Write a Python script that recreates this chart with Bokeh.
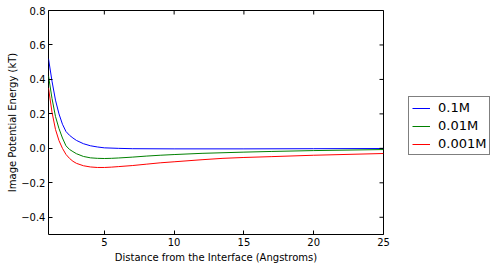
import math
from bokeh.plotting import figure
from bokeh.layouts import row
from bokeh.models import Range1d, Legend, LegendItem, FixedTicker
from bokeh.embed import file_html
from bokeh.resources import INLINE

# Data
x_blue = [1, 1.25, 1.5, 1.75, 2.0, 2.25, 2.5, 2.75, 3.0, 3.5, 4.0, 4.5, 5, 6, 7, 10, 15, 20, 25]
y_blue = [0.52, 0.39, 0.28, 0.20, 0.14, 0.098, 0.076, 0.060, 0.046, 0.027, 0.015, 0.008,
          0.003, 0.0, -0.002, -0.003, -0.003, -0.002, -0.001]

x_green = [1, 1.25, 1.5, 1.75, 2.0, 2.25, 2.5, 2.75, 3.0, 3.5, 4.0, 4.5, 5, 5.5, 6, 7, 8, 9, 10,
           12, 15, 17, 20, 25]
y_green = [0.42, 0.29, 0.185, 0.115, 0.06, 0.015, -0.006, -0.019, -0.031, -0.047, -0.055, -0.058,
           -0.059, -0.058, -0.056, -0.051, -0.045, -0.040, -0.036, -0.029, -0.022, -0.018,
           -0.013, -0.007]

x_red = [1, 1.25, 1.5, 1.75, 2.0, 2.25, 2.5, 2.75, 3.0, 3.5, 4.0, 4.5, 5, 5.5, 6, 7, 8, 9, 10,
         12, 13.5, 15, 17, 20, 25]
y_red = [0.35, 0.21, 0.11, 0.045, 0.0, -0.035, -0.058, -0.075, -0.087, -0.101, -0.108, -0.111,
         -0.111, -0.109, -0.106, -0.100, -0.092, -0.084, -0.078, -0.066, -0.058, -0.053,
         -0.048, -0.040, -0.030]

series_labels = ["0.1M", "0.01M", "0.001M"]
series_colors = ["blue", "green", "red"]
x_ticks = [5, 10, 15, 20, 25]
y_ticks = [-0.4, -0.2, 0.0, 0.2, 0.4, 0.6, 0.8]
y_tick_labels = ["\u22120.4", "\u22120.2", "0.0", "0.2", "0.4", "0.6", "0.8"]
X_MIN, X_MAX = 1, 25
Y_MIN, Y_MAX = -0.5, 0.8

FONT = "DejaVu Sans"

p = figure(width=408, height=270, output_backend="svg", toolbar_location=None,
           x_range=Range1d(X_MIN, X_MAX), y_range=Range1d(Y_MIN, Y_MAX),
           min_border_left=48, min_border_right=25, min_border_top=10, min_border_bottom=36)
p.xgrid.visible = False
p.ygrid.visible = False
p.outline_line_color = "black"
p.outline_line_width = 1
p.background_fill_color = "white"
p.border_fill_color = "white"

series = [(x_blue, y_blue), (x_green, y_green), (x_red, y_red)]
for (xs, ys), c in zip(series, series_colors):
    p.line(xs, ys, line_color=c, line_width=1)

for ax in (p.xaxis[0], p.yaxis[0]):
    ax.major_tick_in = 4
    ax.major_tick_out = 0
    ax.minor_tick_in = 0
    ax.minor_tick_out = 0
    ax.axis_line_color = None
    ax.major_label_text_font = FONT
    ax.major_label_text_font_size = "10px"
    ax.major_label_text_color = "black"
    ax.axis_label_text_font = FONT
    ax.axis_label_text_font_size = "10px"
    ax.axis_label_text_font_style = "normal"
    ax.axis_label_text_color = "black"
    ax.major_label_standoff = 3

p.xaxis[0].axis_label_standoff = 3
p.yaxis[0].axis_label_standoff = 0
p.xaxis[0].ticker = FixedTicker(ticks=x_ticks)
p.yaxis[0].ticker = FixedTicker(ticks=y_ticks)
p.yaxis[0].major_label_overrides = {t: l for t, l in zip(y_ticks, y_tick_labels)}
p.xaxis[0].axis_label = "Distance from the Interface (Angstroms)"
p.yaxis[0].axis_label = "Image Potential Energy (kT)"

# mirrored inward ticks on top and right edges (dash markers clipped by the frame)
p.scatter(x=x_ticks, y=[Y_MAX] * len(x_ticks), marker="dash", size=8, angle=math.pi / 2,
          line_color="black", line_width=1)
p.scatter(x=[X_MAX] * len(y_ticks), y=y_ticks, marker="dash", size=8,
          line_color="black", line_width=1)

# legend panel to the right of the plot; its lines carry the same series,
# kept outside that panel's view so that only their legend entries show
p2 = figure(width=92, height=270, output_backend="svg", toolbar_location=None,
            x_range=Range1d(-20, -10), y_range=Range1d(-20, -10),
            x_axis_location=None, y_axis_location=None,
            min_border_left=0, min_border_right=0, min_border_top=0, min_border_bottom=0)
p2.xgrid.visible = False
p2.ygrid.visible = False
p2.outline_line_color = None
p2.background_fill_color = "white"
p2.border_fill_color = "white"
lr = [p2.line(xs, ys, line_color=c, line_width=1) for (xs, ys), c in zip(series, series_colors)]

legend = Legend(items=[LegendItem(label=lab, renderers=[r]) for lab, r in zip(series_labels, lr)],
                location=(0, 79))
legend.border_line_color = "black"
legend.border_line_width = 1
legend.background_fill_color = "white"
legend.background_fill_alpha = 1
legend.label_text_font = FONT
legend.label_text_font_size = "13px"
legend.label_text_color = "black"
legend.glyph_width = 18
legend.glyph_height = 14
legend.label_standoff = 8
legend.spacing = 3
legend.padding = 3
legend.margin = 0
p2.add_layout(legend, "center")

layout = row(p, p2, spacing=0)
open("out.html", "w").write(file_html(layout, INLINE))
